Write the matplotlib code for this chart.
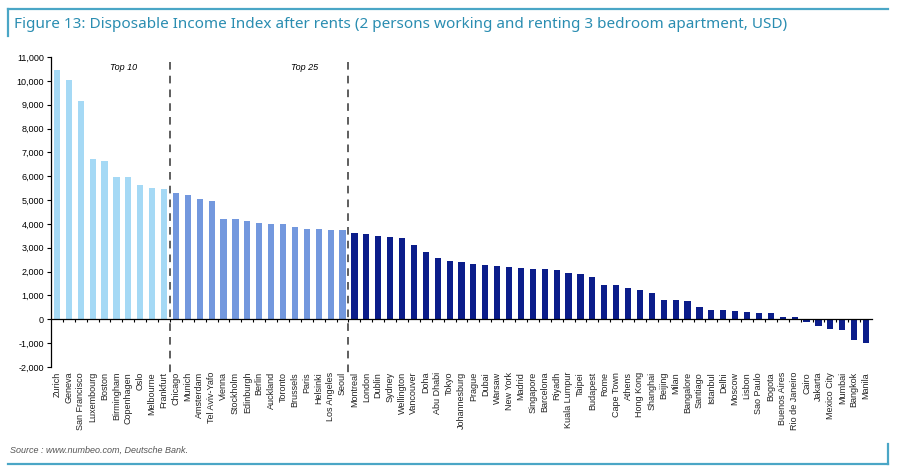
"""
Disposable income after rents by city (Numbeo data, Deutsche Bank figure 13).
"""

import matplotlib

matplotlib.use("Agg")
import matplotlib.pyplot as plt
import matplotlib.transforms as mtransforms
from matplotlib.lines import Line2D
from matplotlib.ticker import FuncFormatter, MultipleLocator

plt.rcParams["font.family"] = ["Liberation Sans", "DejaVu Sans"]

TOP10_CITIES = [
    "Zurich", "Geneva", "San Francisco", "Luxembourg", "Boston",
    "Birmingham", "Copenhagen", "Oslo", "Melbourne", "Frankfurt",
]
TOP10_VALUES = [10450, 10040, 9150, 6730, 6640, 5985, 5980, 5645, 5495, 5465]

TOP25_CITIES = [
    "Chicago", "Munich", "Amsterdam", "Tel Aviv-Yafo", "Vienna",
    "Stockholm", "Edinburgh", "Berlin", "Auckland", "Toronto",
    "Brussels", "Paris", "Helsinki", "Los Angeles", "Seoul",
]
TOP25_VALUES = [5295, 5225, 5055, 4970, 4225, 4195, 4140, 4055, 4015, 4010,
                3860, 3805, 3775, 3750, 3735]

REST_CITIES = [
    "Montreal", "London", "Dublin", "Sydney", "Wellington", "Vancouver",
    "Doha", "Abu Dhabi", "Tokyo", "Johannesburg", "Prague", "Dubai",
    "Warsaw", "New York", "Madrid", "Singapore", "Barcelona", "Riyadh",
    "Kuala Lumpur", "Taipei", "Budapest", "Rome", "Cape Town", "Athens",
    "Hong Kong", "Shanghai", "Beijing", "Milan", "Bangalore", "Santiago",
    "Istanbul", "Delhi", "Moscow", "Lisbon", "Sao Paulo", "Bogota",
    "Buenos Aires", "Rio de Janeiro", "Cairo", "Jakarta", "Mexico City",
    "Mumbai", "Bangkok", "Manila",
]
REST_VALUES = [3600, 3590, 3480, 3435, 3395, 3125, 2830, 2575, 2425, 2410,
               2340, 2285, 2255, 2185, 2160, 2130, 2090, 2070, 1930, 1915,
               1760, 1445, 1440, 1315, 1240, 1085, 830, 800, 760, 520,
               405, 395, 350, 295, 265, 250, 110, 95, -100, -270,
               -410, -440, -860, -1000]

TITLE = "Figure 13: Disposable Income Index after rents (2 persons working and renting 3 bedroom apartment, USD)"
SOURCE = "Source : www.numbeo.com, Deutsche Bank."

COLOR_TOP10 = "#a5d9f5"
COLOR_TOP25 = "#7398de"
COLOR_REST = "#0b1d8a"
COLOR_FRAME = "#4aa6c6"
COLOR_TITLE = "#2a8db1"


def draw_frame(fig) -> None:
    # teal box pieces around the figure (top-left and bottom-right corners)
    kw = dict(color=COLOR_FRAME, linewidth=1.6, transform=fig.transFigure)
    fig.add_artist(Line2D([8 / 900, 888 / 900], [1 - 9 / 475, 1 - 9 / 475], **kw))
    fig.add_artist(Line2D([8 / 900, 8 / 900], [1 - 9 / 475, 1 - 36 / 475], **kw))
    fig.add_artist(Line2D([8 / 900, 888 / 900], [1 - 464 / 475, 1 - 464 / 475], **kw))
    fig.add_artist(Line2D([888 / 900, 888 / 900], [1 - 464 / 475, 1 - 444 / 475], **kw))


def main() -> None:
    cities = TOP10_CITIES + TOP25_CITIES + REST_CITIES
    values = TOP10_VALUES + TOP25_VALUES + REST_VALUES
    colors = ([COLOR_TOP10] * len(TOP10_CITIES) + [COLOR_TOP25] * len(TOP25_CITIES)
              + [COLOR_REST] * len(REST_CITIES))
    x = list(range(len(cities)))

    fig = plt.figure(figsize=(9, 4.75), dpi=100)
    ax = fig.add_axes([51 / 900, 1 - 367 / 475, 821 / 900, 310 / 475])

    ax.bar(x, values, width=0.52, color=colors, zorder=2)
    ax.set_xlim(-0.5, len(cities) - 0.5)
    ax.set_ylim(-2000, 11000)

    ax.spines["top"].set_visible(False)
    ax.spines["right"].set_visible(False)
    ax.spines["bottom"].set_position(("data", 0))
    ax.spines["left"].set_linewidth(0.9)
    ax.spines["bottom"].set_linewidth(0.9)

    ax.yaxis.set_major_locator(MultipleLocator(1000))
    ax.yaxis.set_major_formatter(FuncFormatter(lambda v, _: f"{int(v):,}"))
    ax.tick_params(axis="y", direction="out", length=3, width=0.8, labelsize=6.5, pad=2)

    ax.set_xticks([i + 0.5 for i in x[:-1]])
    ax.set_xticklabels([])
    ax.tick_params(axis="x", direction="out", length=2.5, width=0.8)

    trans = mtransforms.blended_transform_factory(ax.transData, ax.transAxes)
    for i, city in zip(x, cities):
        ax.text(i, -0.016, city, transform=trans, rotation=90, ha="center", va="top",
                fontsize=6.5, color="#222222")

    for xb in (len(TOP10_CITIES) - 0.5, len(TOP10_CITIES) + len(TOP25_CITIES) - 0.5):
        ax.plot([xb, xb], [10800, -2250], color="#333333", linewidth=1.1,
                linestyle=(0, (5, 4)), clip_on=False, zorder=3)

    ax.text(5.6, 10550, "Top 10", style="italic", fontsize=6.5, ha="center", va="center")
    ax.text(20.8, 10550, "Top 25", style="italic", fontsize=6.5, ha="center", va="center")

    fig.text(14 / 900, 1 - 24 / 475, TITLE, fontsize=11, color=COLOR_TITLE,
             ha="left", va="center", family=["Noto Sans", "DejaVu Sans"])
    fig.text(10 / 900, 1 - 450 / 475, SOURCE, fontsize=6.5, style="italic",
             color="#555555", ha="left", va="center")
    draw_frame(fig)

    fig.savefig("out.png", dpi=100)
    plt.close(fig)


if __name__ == "__main__":
    main()
